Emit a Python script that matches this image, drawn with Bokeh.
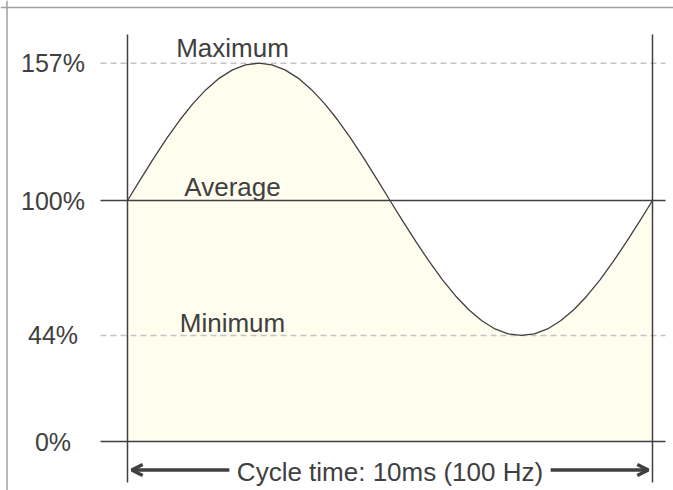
from bokeh.plotting import figure
from bokeh.models import Range1d, Span, Arrow, OpenHead, ColumnDataSource
from bokeh.core.properties import value
from bokeh.embed import file_html
from bokeh.resources import INLINE

# ---- data ----
time_ms = [0, 0.25, 0.5, 0.75, 1, 1.25, 1.5, 1.75, 2, 2.25, 2.5,
           2.75, 3, 3.25, 3.5, 3.75, 4, 4.25, 4.5, 4.75, 5,
           5.25, 5.5, 5.75, 6, 6.25, 6.5, 6.75, 7, 7.25, 7.5,
           7.75, 8, 8.25, 8.5, 8.75, 9, 9.25, 9.5, 9.75, 10]
level_pct = [100, 108.9, 117.6, 125.9, 133.5, 140.3, 146.1, 150.8, 154.2, 156.3, 157,
             156.3, 154.2, 150.8, 146.1, 140.3, 133.5, 125.9, 117.6, 108.9, 100,
             91.2, 82.7, 74.6, 67.1, 60.4, 54.7, 50.1, 46.7, 44.7, 44,
             44.7, 46.7, 50.1, 54.7, 60.4, 67.1, 74.6, 82.7, 91.2, 100]
tick_values = [157, 100, 44, 0]
tick_labels = ["157%", "100%", "44%", "0%"]
ref_names = ["Maximum", "Average", "Minimum"]
ref_values = [157, 100, 44]
cycle_start, cycle_end = 0, 10
cycle_label = "Cycle time: 10ms (100 Hz)"

DARK = "#404040"
FONT = "Liberation Sans"

p = figure(width=673, height=490, output_backend="svg", toolbar_location=None,
           x_range=Range1d(-2.419, 10.4), y_range=Range1d(-20.33, 182.99),
           x_axis_location=None, y_axis_location=None,
           min_border=0, min_border_left=0, min_border_right=0,
           min_border_top=0, min_border_bottom=0)
p.grid.visible = False
p.outline_line_color = None
p.background_fill_color = "white"
p.border_fill_color = "white"

# outer frame (top and left edges)
p.add_layout(Span(location=-2.295, dimension="height", line_color="#a0a0a0", line_width=1.5))
p.add_layout(Span(location=180.1, dimension="width", line_color="#a0a0a0", line_width=1.5))

src = ColumnDataSource(dict(t=time_ms, v=level_pct, z=[0] * len(time_ms)))
p.varea(x="t", y1="z", y2="v", source=src, fill_color="#fffdee")

# horizontal reference lines
x0, x1 = -0.514, 10.248
for v in tick_values:
    if v in (157, 44):
        p.line([x0, x1], [v, v], line_color="#c4c4c4", line_width=1.5, line_dash="6 4")
    else:
        p.line([x0, x1], [v, v], line_color=DARK, line_width=1.5)

# vertical cycle boundaries
for xv in (cycle_start, cycle_end):
    p.line([xv, xv], [-17.0, 168.9], line_color=DARK, line_width=1.5)

p.line("t", "v", source=src, line_color=DARK, line_width=1.3)

# tick labels
p.text(x=[-1.419] * len(tick_values), y=tick_values, text=tick_labels,
       text_font=value(FONT), text_font_size="25px", text_color=DARK,
       text_align="center", text_baseline="middle")

# reference names (centred a little above each reference line)
p.text(x=[2.0] * 3, y=[v + off for v, off in zip(ref_values, [6.3, 5.8, 5.2])], text=ref_names,
       text_font=value(FONT), text_font_size="26px", text_color=DARK,
       text_align="center", text_baseline="middle")

# cycle arrow + label
mid = (cycle_start + cycle_end) / 2
p.text(x=[mid], y=[-12.6], text=[cycle_label],
       text_font=value(FONT), text_font_size="26px", text_color=DARK,
       text_align="center", text_baseline="middle")
p.add_layout(Arrow(end=OpenHead(size=11, line_width=3.5, line_color=DARK),
                   x_start=1.94, y_start=-11.8, x_end=0.08, y_end=-11.8,
                   line_color=DARK, line_width=3.5))
p.add_layout(Arrow(end=OpenHead(size=11, line_width=3.5, line_color=DARK),
                   x_start=8.06, y_start=-11.8, x_end=9.92, y_end=-11.8,
                   line_color=DARK, line_width=3.5))

open("out.html", "w").write(file_html(p, INLINE))
